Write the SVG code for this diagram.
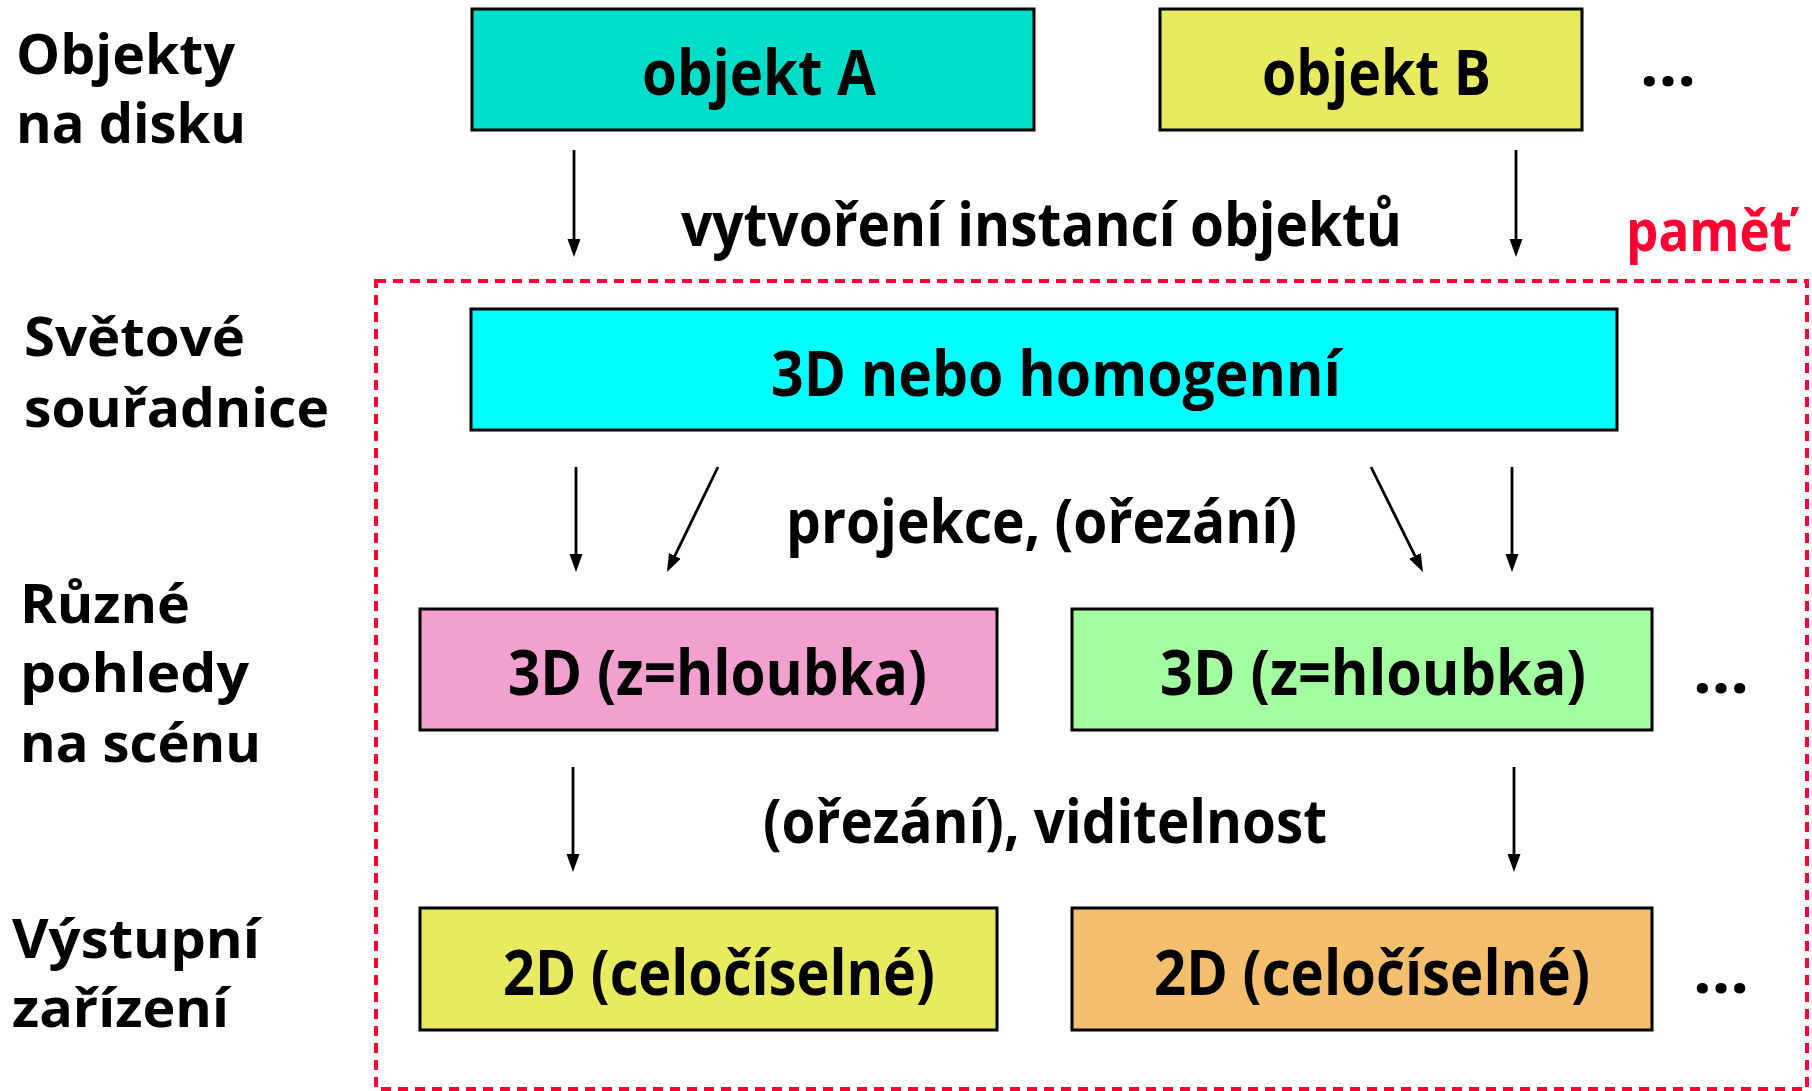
<svg xmlns="http://www.w3.org/2000/svg" width="1812" height="1091" viewBox="0 0 1812 1091">
  <style>
    text { font-family: "Open Sans", "Noto Sans", "Liberation Sans", sans-serif; font-weight: 700; fill: #000; }
    .lbl { font-size: 54px; }
    .lbl-top { font-size: 55px; }
    .node-text { font-size: 62px; }
    .edge-text { font-size: 60px; }
    .mem-text { font-size: 58px; fill: #FF0033; }
    .box { stroke: #000; stroke-width: 3; }
    .edge { stroke: #000; stroke-width: 2.8; fill: none; marker-end: url(#arrow); }
    .mem { fill: none; stroke: #FF0033; stroke-width: 4; stroke-dasharray: 10 7; }
  </style>
  <defs>
    <marker id="arrow" markerUnits="userSpaceOnUse" markerWidth="20" markerHeight="16" refX="12" refY="8" orient="auto">
      <path d="M0,1.5 L18,8 L0,14.5 z" fill="#000"/>
    </marker>
  </defs>

  <rect width="1812" height="1091" fill="#fff"/>

  <!-- memory region -->
  <g id="memory">
    <rect class="mem" x="376" y="281" width="1431" height="808"/>
    <text class="mem-text" x="1626" y="251" textLength="166" lengthAdjust="spacingAndGlyphs">paměť</text>
  </g>

  <!-- row labels -->
  <g id="row-labels">
    <text class="lbl-top" x="16" y="74" textLength="219" lengthAdjust="spacingAndGlyphs">Objekty</text>
    <text class="lbl-top" x="16" y="143" textLength="230" lengthAdjust="spacingAndGlyphs">na disku</text>
    <text class="lbl" x="24" y="356" textLength="221" lengthAdjust="spacingAndGlyphs">Světové</text>
    <text class="lbl" x="24" y="427" textLength="305" lengthAdjust="spacingAndGlyphs">souřadnice</text>
    <text class="lbl" x="20" y="623" textLength="170" lengthAdjust="spacingAndGlyphs">Různé</text>
    <text class="lbl" x="20" y="692" textLength="229" lengthAdjust="spacingAndGlyphs">pohledy</text>
    <text class="lbl" x="20" y="762" textLength="241" lengthAdjust="spacingAndGlyphs">na scénu</text>
    <text class="lbl" x="12" y="958" textLength="248" lengthAdjust="spacingAndGlyphs">Výstupní</text>
    <text class="lbl" x="12" y="1027" textLength="217" lengthAdjust="spacingAndGlyphs">zařízení</text>
  </g>

  <!-- nodes -->
  <g id="objekt-a">
    <rect class="box" x="472" y="9" width="562" height="121" fill="#00DDC8"/>
    <text class="node-text" x="642" y="95" textLength="234" lengthAdjust="spacingAndGlyphs">objekt A</text>
  </g>
  <g id="objekt-b">
    <rect class="box" x="1160" y="9" width="422" height="121" fill="#E8EB60"/>
    <text class="node-text" x="1262" y="95" textLength="229" lengthAdjust="spacingAndGlyphs">objekt B</text>
  </g>
  <g id="more-objects">
    <text class="node-text" x="1640" y="86" textLength="56" lengthAdjust="spacingAndGlyphs">…</text>
  </g>

  <g id="world">
    <rect class="box" x="471" y="309" width="1146" height="121" fill="#00FFFF"/>
    <text class="node-text" x="771" y="396" textLength="570" lengthAdjust="spacingAndGlyphs">3D nebo homogenní</text>
  </g>

  <g id="view-1">
    <rect class="box" x="420" y="609" width="577" height="121" fill="#F2A0D0"/>
    <text class="node-text" x="508" y="695" textLength="419" lengthAdjust="spacingAndGlyphs">3D (z=hloubka)</text>
  </g>
  <g id="view-2">
    <rect class="box" x="1072" y="609" width="580" height="121" fill="#A4FFA0"/>
    <text class="node-text" x="1160" y="695" textLength="426" lengthAdjust="spacingAndGlyphs">3D (z=hloubka)</text>
  </g>
  <g id="more-views">
    <text class="node-text" x="1693" y="693" textLength="56" lengthAdjust="spacingAndGlyphs">…</text>
  </g>

  <g id="device-1">
    <rect class="box" x="420" y="908" width="577" height="122" fill="#E8EB60"/>
    <text class="node-text" x="503" y="995" textLength="432" lengthAdjust="spacingAndGlyphs">2D (celočíselné)</text>
  </g>
  <g id="device-2">
    <rect class="box" x="1072" y="908" width="580" height="122" fill="#F4C06E"/>
    <text class="node-text" x="1154" y="995" textLength="436" lengthAdjust="spacingAndGlyphs">2D (celočíselné)</text>
  </g>
  <g id="more-devices">
    <text class="node-text" x="1693" y="993" textLength="56" lengthAdjust="spacingAndGlyphs">…</text>
  </g>

  <!-- connectors -->
  <g id="connectors">
    <line class="edge" x1="574" y1="150" x2="574" y2="251"/>
    <line class="edge" x1="1516" y1="150" x2="1516" y2="251"/>
    <text class="edge-text" x="681" y="246" textLength="721" lengthAdjust="spacingAndGlyphs">vytvoření instancí objektů</text>

    <line class="edge" x1="576" y1="467" x2="576" y2="566"/>
    <line class="edge" x1="718" y1="467" x2="669.6" y2="566.6"/>
    <line class="edge" x1="1371" y1="467" x2="1420.3" y2="566.6"/>
    <line class="edge" x1="1512" y1="467" x2="1512" y2="566"/>
    <text class="edge-text" x="786" y="543" textLength="511" lengthAdjust="spacingAndGlyphs">projekce, (ořezání)</text>

    <line class="edge" x1="573" y1="767" x2="573" y2="866"/>
    <line class="edge" x1="1514" y1="767" x2="1514" y2="866"/>
    <text class="edge-text" x="763" y="843" textLength="564" lengthAdjust="spacingAndGlyphs">(ořezání), viditelnost</text>
  </g>
</svg>
